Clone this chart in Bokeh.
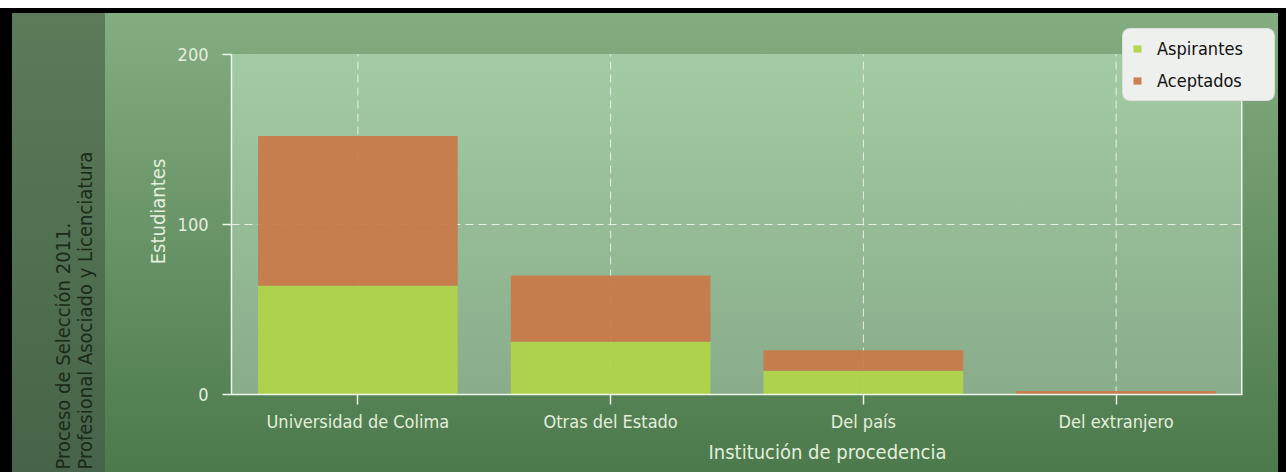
from bokeh.plotting import figure
from bokeh.models import FixedTicker, Range1d, ColumnDataSource, Title
from bokeh.embed import file_html
from bokeh.resources import INLINE

categories = ["Universidad de Colima", "Otras del Estado", "Del país", "Del extranjero"]
aspirantes = [64, 31, 14, 0]
aceptados = [88, 39, 12, 2]
series_names = ["Aspirantes", "Aceptados"]
series_colors = ["#b0d34b", "#c97a4b"]
y_ticks = [0, 100, 200]
y_grid_ticks = [100]
title_lines = ["Proceso de Selección 2011.", "Profesional Asociado y Licenciatura"]
x_title = "Institución de procedencia"
y_title = "Estudiantes"

FONT = "DejaVu Sans Condensed"
AXIS_WHITE = "#eef5ea"
TEXT_LIGHT = "#e3eedc"
GRID = "#f4f8f0"

x_pos = list(range(len(categories)))
x_lo, x_hi = x_pos[0] - 0.5, x_pos[-1] + 0.5
y_lo, y_hi = y_ticks[0], y_ticks[-1]

source = ColumnDataSource(data={"x": x_pos, "Aspirantes": aspirantes, "Aceptados": aceptados})

# frame extends a bit above / right of the plotting box so the legend can sit there
p = figure(
    x_range=Range1d(x_lo, x_hi + 0.1345),
    y_range=Range1d(y_lo, y_hi + 15.3),
    width=1286, height=472,
    output_backend="svg", toolbar_location=None,
    min_border_left=231, min_border_right=10, min_border_top=28, min_border_bottom=78,
    title=None,
)

p.background_fill_color = None
p.border_fill_color = None
p.outline_line_color = None

p.styles = {
    "background": (
        "linear-gradient(#eef5ea, #eef5ea) 1241px 54px / 1.5px 341px no-repeat, "
        "linear-gradient(to bottom, #a3cba3, #89ac8a) 231px 54px / 1011px 340px no-repeat, "
        "linear-gradient(#ffffff, #ffffff) 0px 0px / 100% 8px no-repeat, "
        "linear-gradient(to bottom, #5c7b59, #47644a) 12px 13px / 93px 459px no-repeat, "
        "linear-gradient(to bottom, #84ac81, #4c7a4c) 105px 13px / 1173px 459px no-repeat, "
        "#000000"
    )
}

p.xgrid.visible = False
p.ygrid.visible = False

# dashed grid lines limited to the plotting box
p.segment(x0=x_pos, x1=x_pos, y0=[y_lo] * len(x_pos), y1=[y_hi] * len(x_pos),
          line_color=GRID, line_alpha=0.85, line_dash="8 5", line_width=1, level="underlay")
p.segment(x0=[x_lo] * len(y_grid_ticks), x1=[x_hi] * len(y_grid_ticks), y0=y_grid_ticks, y1=y_grid_ticks,
          line_color=GRID, line_alpha=0.85, line_dash="8 5", line_width=1, level="underlay")

p.vbar_stack(series_names, x="x", width=0.79, color=series_colors, line_color=None,
             fill_alpha=0.95, source=source, legend_label=series_names)

# y axis
p.yaxis.ticker = FixedTicker(ticks=y_ticks)
p.yaxis.bounds = (y_lo, y_hi)
p.yaxis.major_tick_out = 9
p.yaxis.major_tick_in = 0
p.yaxis.minor_tick_line_color = None
p.yaxis.major_label_standoff = 14
p.yaxis.axis_label = y_title
p.yaxis.axis_label_standoff = 5

# x axis
p.xaxis.ticker = FixedTicker(ticks=x_pos)
p.xaxis.major_label_overrides = {i: c for i, c in zip(x_pos, categories)}
p.xaxis.bounds = (x_lo, x_hi)
p.xaxis.major_tick_out = 10
p.xaxis.major_tick_in = 0
p.xaxis.minor_tick_line_color = None
p.xaxis.major_label_standoff = 6

for ax in (p.xaxis, p.yaxis):
    ax.axis_line_color = AXIS_WHITE
    ax.axis_line_width = 1.5
    ax.major_tick_line_color = AXIS_WHITE
    ax.major_tick_line_width = 1.5
    ax.major_label_text_color = TEXT_LIGHT
    ax.major_label_text_font = FONT
    ax.major_label_text_font_size = "18px"
    ax.axis_label_text_color = TEXT_LIGHT
    ax.axis_label_text_font = FONT
    ax.axis_label_text_font_size = "20px"
    ax.axis_label_text_font_style = "normal"

# x axis title (below, shifted right as in the reference)
p.add_layout(Title(text=x_title, align="left", offset=477, standoff=6,
                   text_color=TEXT_LIGHT, text_font=FONT, text_font_size="20px",
                   text_font_style="normal"), "below")

# side title: two rotated lines in the dark band
p.add_layout(Title(text="\n".join(title_lines), align="left", offset=-75, standoff=90,
                   text_color="#1b2a1a", text_font=FONT, text_font_size="20px",
                   text_font_style="normal", text_line_height=0.95), "left")

# legend
lg = p.legend[0]
lg.location = (891, 293)
lg.label_text_font = FONT
lg.label_text_font_size = "18px"
lg.label_text_color = "#111111"
lg.glyph_width = 10
lg.glyph_height = 9
lg.label_standoff = 15
lg.padding = 9
lg.spacing = 11
lg.margin = 0
lg.label_width = 108
lg.background_fill_color = "#eef0ee"
lg.background_fill_alpha = 1.0
lg.border_line_color = "#c9cec9"
try:
    lg.border_radius = 8
except Exception:
    pass

open("out.html", "w").write(file_html(p, INLINE))
